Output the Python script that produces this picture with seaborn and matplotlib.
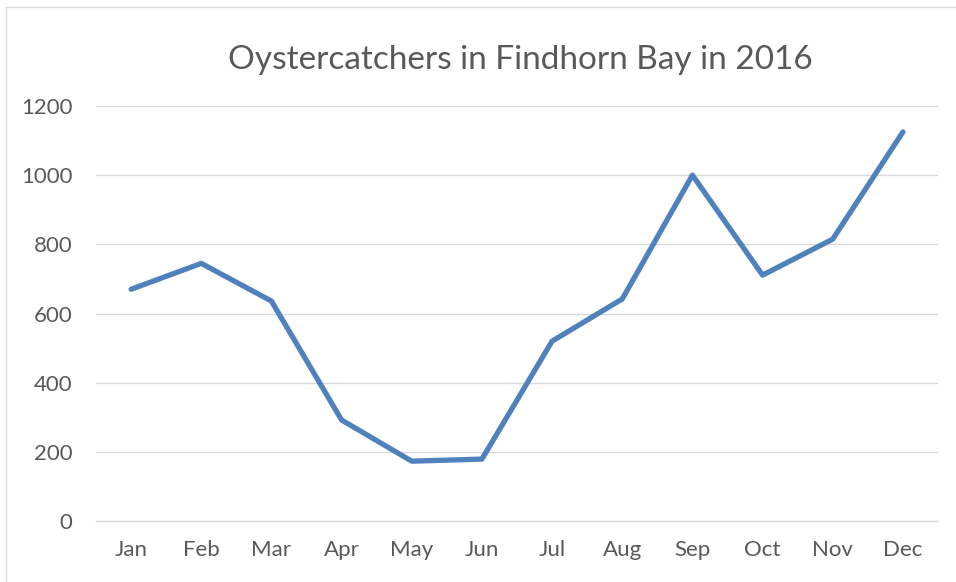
import matplotlib
matplotlib.use("Agg")
import matplotlib.pyplot as plt
import seaborn as sns
import pandas as pd
from matplotlib.lines import Line2D

months = ["Jan", "Feb", "Mar", "Apr", "May", "Jun", "Jul", "Aug", "Sep", "Oct", "Nov", "Dec"]
counts = [670, 745, 636, 292, 173, 179, 520, 642, 1000, 711, 815, 1125]
y_ticks = [0, 200, 400, 600, 800, 1000, 1200]
title = "Oystercatchers in Findhorn Bay in 2016"

sns.set_theme(style="white")
plt.rcParams["font.family"] = ["Lato", "DejaVu Sans"]

df = pd.DataFrame({"month": months, "count": counts, "x": range(len(months))})

fig = plt.figure(figsize=(9.56, 5.82), dpi=100)
ax = fig.add_axes([96 / 956, 1 - 521 / 582, (938 - 96) / 956, (521 - 106) / 582])

sns.lineplot(data=df, x="x", y="count", ax=ax, color="#4F81BD", linewidth=3.8,
             solid_joinstyle="round", solid_capstyle="round")

ax.set_xlim(-0.5, len(months) - 0.5)
ax.set_ylim(0, 1200)
ax.set_yticks(y_ticks)
ax.set_yticklabels([str(v) for v in y_ticks])
ax.set_xticks(range(len(months)))
ax.set_xticklabels(months)
ax.set_xticks([i - 0.5 for i in range(len(months) + 1)], minor=True)
ax.tick_params(axis="x", which="major", length=0, pad=14, labelsize=16, labelcolor="#595959")
ax.tick_params(axis="x", which="minor", length=5, width=1, color="#D9D9D9", direction="out")
ax.tick_params(axis="y", length=0, pad=17, labelsize=16, labelcolor="#595959")
ax.yaxis.grid(True, color="#D9D9D9", linewidth=1)
ax.set_axisbelow(True)
ax.set_xlabel("")
ax.set_ylabel("")
for s in ["top", "right", "left"]:
    ax.spines[s].set_visible(False)
ax.spines["bottom"].set_color("#D9D9D9")
ax.spines["bottom"].set_linewidth(1)

fig.text(520 / 956, 1 - 60 / 582, title, ha="center", va="center", fontsize=24, color="#595959")

# outer chart frame (top and left edges visible)
fig.add_artist(Line2D([6 / 956, 1.0], [1 - 7 / 582, 1 - 7 / 582], transform=fig.transFigure,
                      color="#D9D9D9", linewidth=1))
fig.add_artist(Line2D([6 / 956, 6 / 956], [1 - 7 / 582, 0.0], transform=fig.transFigure,
                      color="#D9D9D9", linewidth=1))

fig.savefig("out.png", dpi=100)
